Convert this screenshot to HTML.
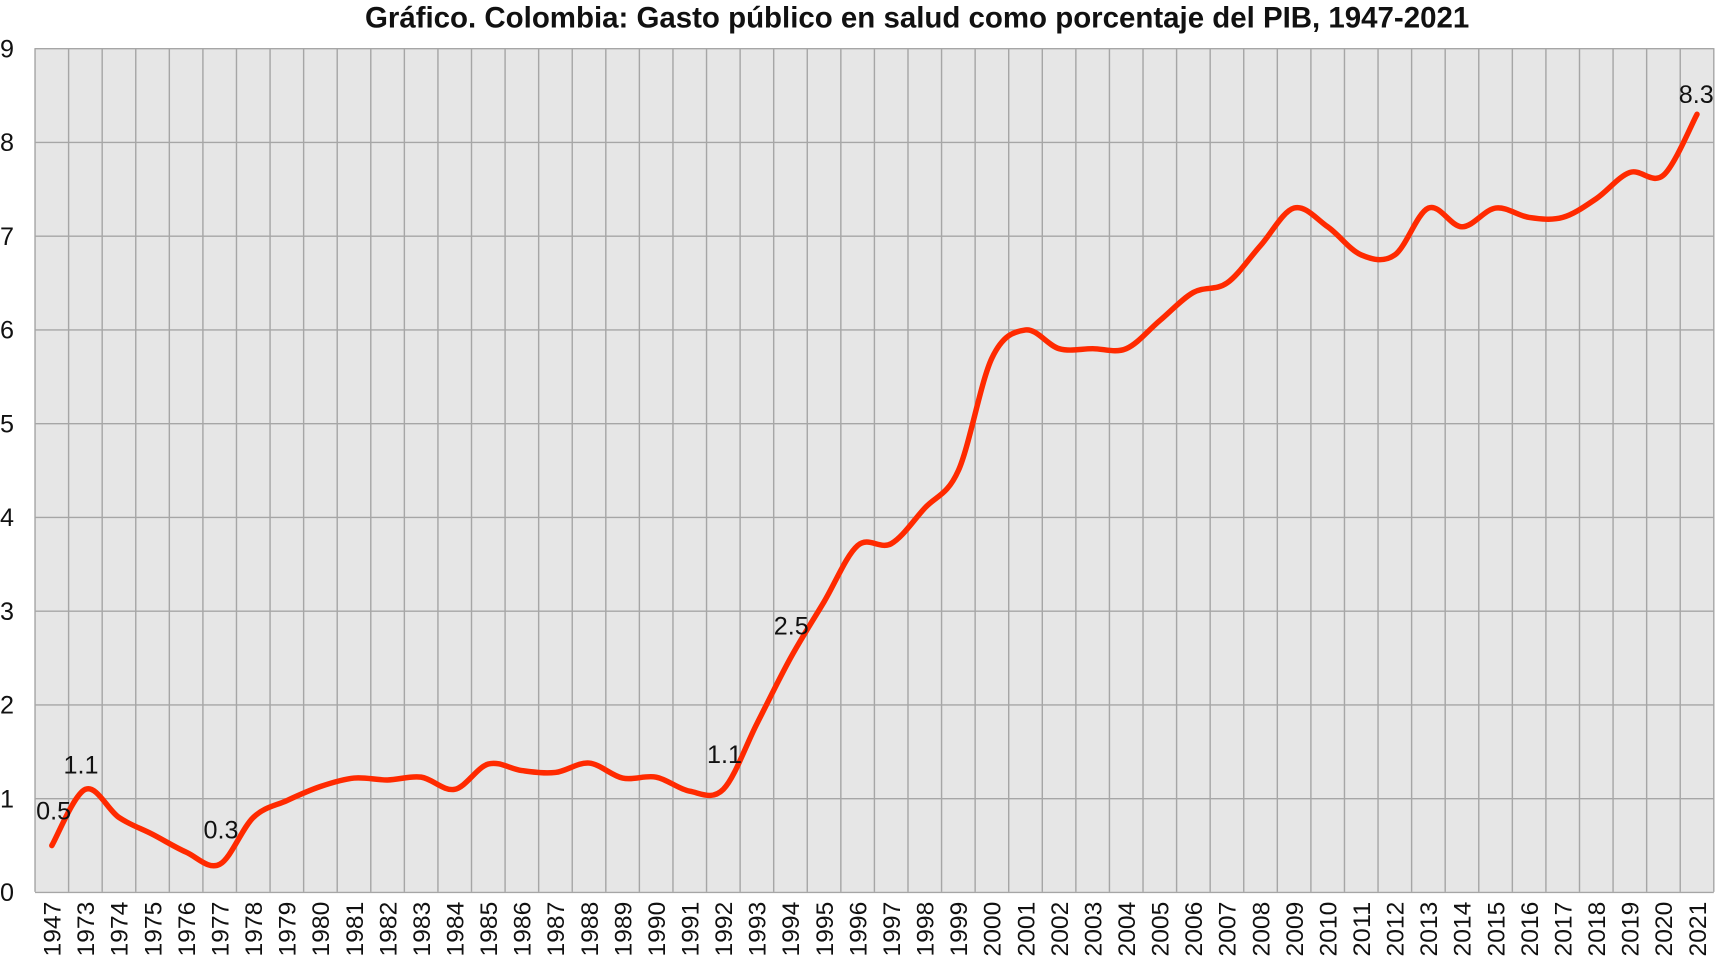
<!DOCTYPE html>
<html><head><meta charset="utf-8"><style>
html,body{margin:0;padding:0;background:#fff;}
svg text{font-family:"Liberation Sans Narrow","Liberation Sans",sans-serif;}
</style></head><body>
<svg id="c" width="1716" height="959" viewBox="0 0 1568 876.3" xmlns="http://www.w3.org/2000/svg">
<rect x="32" y="44" width="1534" height="771" fill="#e6e6e6"/>
<text x="838" y="25" text-anchor="middle" font-size="27" font-weight="bold" fill="#111" textLength="1009" lengthAdjust="spacingAndGlyphs">Gráfico. Colombia: Gasto público en salud como porcentaje del PIB, 1947-2021</text>
<g id="grid"></g>
<g id="lab"></g>
<path id="ln" fill="none" stroke="#ff2a00" stroke-width="5" stroke-linecap="round" stroke-linejoin="round"/>
<g font-size="23" fill="#111">
<text x="33" y="749">0.5</text>
<text x="58" y="707">1.1</text>
<text x="186" y="766">0.3</text>
<text x="646" y="697">1.1</text>
<text x="707" y="580">2.5</text>
<text x="1534" y="94">8.3</text>
</g>
</svg>
<script>
var ns="http://www.w3.org/2000/svg";
var years=["1947"];for(var y=1973;y<=2021;y++)years.push(""+y);
var v=[0.5,1.1,0.8,0.62,0.43,0.3,0.8,0.98,1.13,1.22,1.2,1.23,1.1,1.37,1.3,1.28,1.38,1.22,1.23,1.08,1.1,1.8,2.5,3.1,3.7,3.72,4.1,4.5,5.7,6.0,5.8,5.8,5.8,6.1,6.4,6.5,6.9,7.3,7.1,6.8,6.8,7.3,7.1,7.3,7.2,7.2,7.4,7.68,7.65,8.3];
var X0=32,W=1534/50,Y0=815.5,H=85.67;
var g=document.getElementById("grid"),lab=document.getElementById("lab");
function el(t,a,p){var e=document.createElementNS(ns,t);for(var k in a)e.setAttribute(k,a[k]);p.appendChild(e);return e;}
for(var i=0;i<=50;i++){var x=X0+i*W;el("line",{x1:x,x2:x,y1:44,y2:815,stroke:"#a6a6a6","stroke-width":1.3},g);}
for(var j=0;j<=9;j++){var y=Y0-j*H;el("line",{x1:32,x2:1566,y1:y,y2:y,stroke:"#a6a6a6","stroke-width":1.3},g);
 var t=el("text",{x:0,y:y+8,"font-size":23,fill:"#111"},lab);t.textContent=j;}
for(var i=0;i<50;i++){var x=X0+(i+0.5)*W+8;var t=el("text",{x:0,y:0,"font-size":22,fill:"#111","text-anchor":"end",textLength:50,lengthAdjust:"spacingAndGlyphs",transform:"translate("+x+",824) rotate(-90)"},lab);t.textContent=years[i];}
var P=v.map(function(d,i){return [X0+(i+0.5)*W,Y0-d*H];});
var d="M"+P[0][0]+","+P[0][1];
for(var i=0;i<P.length-1;i++){var p0=P[Math.max(i-1,0)],p1=P[i],p2=P[i+1],p3=P[Math.min(i+2,P.length-1)];
 var c1=[p1[0]+(p2[0]-p0[0])/6,p1[1]+(p2[1]-p0[1])/6],c2=[p2[0]-(p3[0]-p1[0])/6,p2[1]-(p3[1]-p1[1])/6];
 d+=" C"+c1+" "+c2+" "+p2;}
document.getElementById("ln").setAttribute("d",d);
</script>
</body></html>
